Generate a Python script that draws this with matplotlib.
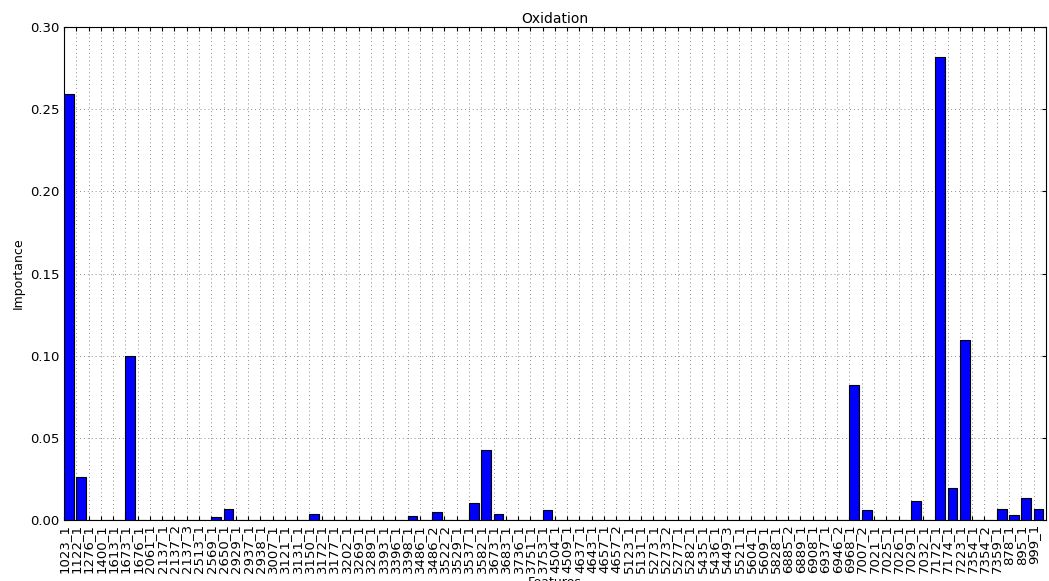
import matplotlib
matplotlib.use("Agg")
import matplotlib.pyplot as plt
import numpy as np

features = [
    "1023_1", "1122_1", "1276_1", "1400_1", "1613_1", "1673_1", "1676_1", "2061_1",
    "2137_1", "2137_2", "2137_3", "2513_1", "2569_1", "2650_1", "2929_1", "2937_1",
    "2938_1", "3007_1", "3121_1", "3131_1", "3150_1", "3172_1", "3177_1", "3202_1",
    "3269_1", "3289_1", "3393_1", "3396_1", "3398_1", "3486_1", "3486_2", "3522_2",
    "3529_1", "3537_1", "3582_1", "3673_1", "3683_1", "3736_1", "3751_1", "3753_1",
    "4504_1", "4509_1", "4637_1", "4643_1", "4657_1", "4657_2", "5123_1", "5131_1",
    "5273_1", "5273_2", "5277_1", "5282_1", "5435_1", "5436_1", "5449_3", "5521_1",
    "5604_1", "5609_1", "5828_1", "6885_2", "6889_1", "6908_1", "6937_1", "6946_2",
    "6968_1", "7007_2", "7021_1", "7025_1", "7026_1", "7029_1", "7032_1", "7172_1",
    "7174_1", "7223_1", "7354_1", "7354_2", "7359_1", "878_1", "895_1", "999_1",
]

# non-zero importances, everything else is 0
nonzero = {
    "1023_1": 0.259, "1122_1": 0.026, "1673_1": 0.100, "2569_1": 0.002,
    "2650_1": 0.0067, "3150_1": 0.0037, "3398_1": 0.0025, "3486_2": 0.005,
    "3537_1": 0.0103, "3582_1": 0.0426, "3673_1": 0.0037, "3753_1": 0.006,
    "6968_1": 0.082, "7007_2": 0.006, "7029_1": 0.0116, "7172_1": 0.2815,
    "7174_1": 0.0195, "7223_1": 0.1095, "7359_1": 0.0067, "878_1": 0.003,
    "895_1": 0.0134, "999_1": 0.0067,
}
importance = [nonzero.get(f, 0.0) for f in features]

fig = plt.figure(figsize=(10.49, 5.81), dpi=100)
ax = fig.add_axes([0.061, 0.105, 0.936, 0.8485])

x = np.arange(len(features))
ax.bar(x, importance, width=0.8, align="edge", color="#0000ff",
       edgecolor="black", linewidth=0.8, zorder=3)

ax.set_xlim(0, len(features))
ax.set_ylim(0, 0.30)
ax.set_xticks(x)
ax.set_xticklabels(features, rotation=90, fontsize=9.5)
ax.set_yticks(np.arange(0, 0.301, 0.05))
ax.set_yticklabels(["%.2f" % v for v in np.arange(0, 0.301, 0.05)], fontsize=9.5)
ax.tick_params(direction="in", top=True, right=True, length=3, pad=3)
ax.grid(True, linestyle=(0, (1, 3)), color="0.55", linewidth=0.7, zorder=0)

ax.set_title("Oxidation", fontsize=10, pad=3)
ax.set_ylabel("Importance", fontsize=9)
ax.set_xlabel("Features", fontsize=9, labelpad=2)

fig.savefig("out.png", dpi=100)
